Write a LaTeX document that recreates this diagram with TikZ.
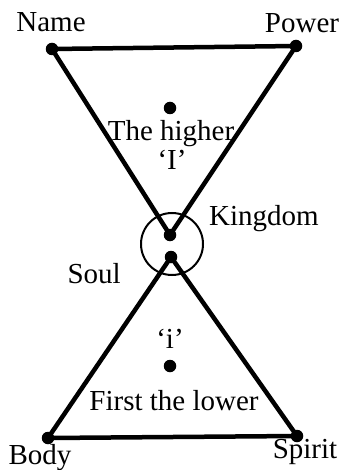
\documentclass[tikz,border=0pt]{standalone}
\usepackage{fontspec}
\setmainfont{Liberation Serif}
\begin{document}
\begin{tikzpicture}[x=1pt,y=-1pt,
  vdot/.style={circle,fill=black,inner sep=0pt,minimum size=12.5pt},
  edge/.style={line width=4.5pt,line join=round,line cap=round},
  lbl/.style={font=\fontsize{29}{31}\selectfont,inner sep=0pt,anchor=base}]
\useasboundingbox (0,0) rectangle (340,470);
% upper triangle
\node[vdot] (N) at (52,49) {};
\node[vdot] (P) at (296,46) {};
\node[vdot] (A) at (170,235) {};
\node[vdot] (H) at (170,108) {};
% lower triangle
\node[vdot] (B) at (48,438) {};
\node[vdot] (S) at (297,436) {};
\node[vdot] (C) at (171,257) {};
\node[vdot] (L) at (170,366) {};
% kingdom circle
\node[circle,draw=black,line width=2pt,minimum size=62pt,inner sep=0pt] (K) at (172,244) {};
\draw[edge] (N.center) -- (P.center) -- (A.center) -- cycle;
\draw[edge] (B.center) -- (S.center) -- (C.center) -- cycle;
% labels
\node[lbl] (tName) at (51,32) {Name};
\node[lbl] (tPower) at (302,33) {Power};
\node[lbl] (tHigher) at (171,141) {The higher};
\node[lbl] (tI) at (172,170) {‘I’};
\node[lbl,anchor=base west] (tKingdom) at (209,225) {Kingdom};
\node[lbl,anchor=base east] (tSoul) at (121,283) {Soul};
\node[lbl] (ti) at (170,348) {‘i’};
\node[lbl] (tLower) at (174,410) {First the lower};
\node[lbl] (tBody) at (40,464) {Body};
\node[lbl] (tSpirit) at (305,458) {Spirit};
\end{tikzpicture}
\end{document}
